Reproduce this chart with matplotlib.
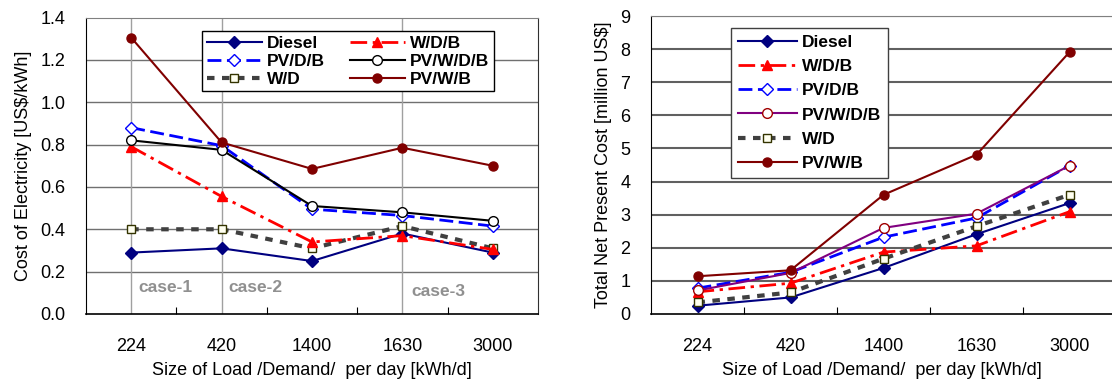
import matplotlib
matplotlib.use("Agg")
from matplotlib import pyplot as plt

plt.rcParams['font.family'] = ['Liberation Sans', 'DejaVu Sans']

loads = ['224', '420', '1400', '1630', '3000']

# cost of electricity [US$/kWh]
coe_diesel = [0.29, 0.31, 0.25, 0.38, 0.29]
coe_wdb = [0.79, 0.555, 0.34, 0.37, 0.305]
coe_pvdb = [0.88, 0.795, 0.495, 0.465, 0.415]
coe_pvwdb = [0.82, 0.775, 0.51, 0.48, 0.44]
coe_wd = [0.40, 0.40, 0.31, 0.415, 0.31]
coe_pvwb = [1.305, 0.81, 0.685, 0.785, 0.70]

# total net present cost [million US$]
npc_diesel = [0.25, 0.50, 1.39, 2.41, 3.35]
npc_wdb = [0.67, 0.93, 1.87, 2.06, 3.09]
npc_pvdb = [0.78, 1.26, 2.32, 2.90, 4.48]
npc_pvwdb = [0.71, 1.24, 2.60, 3.03, 4.48]
npc_wd = [0.35, 0.65, 1.67, 2.65, 3.60]
npc_pvwb = [1.14, 1.32, 3.60, 4.81, 7.91]

case_labels = ['case-1', 'case-2', 'case-3']
case_x = [0.58, 1.58, 3.6]
case_y = [0.123, 0.123, 0.108]

xs = [i + 0.5 for i in range(len(loads))]

def styles(pvwdb_color, pvwdb_edge):
    return {
        'Diesel': dict(color='#000080', ls='-', lw=1.5, marker='D', ms=6,
                       mfc='#000080', mec='#000080'),
        'W/D/B': dict(color='#ff0000', ls=(0, (6, 2, 1.2, 2)), lw=2, marker='^', ms=7.5,
                      mfc='#ff0000', mec='#ff0000'),
        'PV/D/B': dict(color='#0000ff', ls=(0, (5, 2)), lw=2, marker='D', ms=6,
                       mfc='white', mec='#0000ff'),
        'PV/W/D/B': dict(color=pvwdb_color, ls='-', lw=1.5, marker='o', ms=7,
                         mfc='white', mec=pvwdb_edge),
        'W/D': dict(color='#404040', ls=(0, (1.8, 1.8)), lw=3, marker='s', ms=6,
                    mfc='#fffff0', mec='#333300'),
        'PV/W/B': dict(color='#800000', ls='-', lw=1.5, marker='o', ms=6.5,
                       mfc='#800000', mec='#800000'),
    }

fig = plt.figure(figsize=(11.12, 3.81), dpi=100)
W, H = 1112.0, 381.0

# ---- left chart
ax1 = fig.add_axes([86 / W, 1 - 314 / H, 452 / W, (314 - 17.5) / H])
st = styles('black', 'black')
for name, vals in [('Diesel', coe_diesel), ('PV/D/B', coe_pvdb), ('W/D', coe_wd),
                   ('W/D/B', coe_wdb), ('PV/W/D/B', coe_pvwdb), ('PV/W/B', coe_pvwb)]:
    ax1.plot(xs, vals, label=name, zorder=3, **st[name])
ax1.set_xlim(0, 5)
ax1.set_ylim(0, 1.4)
ax1.set_yticks([0.0, 0.2, 0.4, 0.6, 0.8, 1.0, 1.2, 1.4])
ax1.set_yticklabels(['%.1f' % v for v in ax1.get_yticks()])
for v in [0.2, 0.4, 0.6, 0.8, 1.0, 1.2]:
    ax1.axhline(v, color='#707070', lw=1, zorder=1)
for i in [0, 1, 3]:
    ax1.axvline(xs[i], color='#a0a0a0', lw=1, zorder=1)
for t, cx, cy in zip(case_labels, case_x, case_y):
    ax1.text(cx, cy, t, color='#909090', fontsize=12.5, fontweight='bold', va='center')
ax1.set_ylabel('Cost of Electricity [US$/kWh]', fontsize=13, labelpad=6)
leg1 = ax1.legend(ncol=2, loc='upper left', bbox_to_anchor=(0.257, 0.954),
                  borderaxespad=0,
                  prop={'weight': 'bold', 'size': 12.5}, frameon=True, fancybox=False,
                  edgecolor='black', framealpha=1, handlelength=3.2, handletextpad=0.3,
                  columnspacing=1.4, labelspacing=0.17, borderpad=0.25)
leg1.get_frame().set_linewidth(1)

# ---- right chart
ax2 = fig.add_axes([651 / W, 1 - 314 / H, (W - 651) / W, (314 - 16) / H])
st = styles('#800080', '#a00000')
for name, vals in [('Diesel', npc_diesel), ('W/D/B', npc_wdb), ('PV/D/B', npc_pvdb),
                   ('PV/W/D/B', npc_pvwdb), ('W/D', npc_wd), ('PV/W/B', npc_pvwb)]:
    ax2.plot(xs, vals, label=name, zorder=3, **st[name])
ax2.set_xlim(0, (W - 651) / 93.0)
ax2.set_ylim(0, 9)
ax2.set_yticks(range(10))
for v in range(1, 10):
    ax2.axhline(v, color='#606060', lw=1.5, zorder=1)
ax2.set_ylabel('Total Net Present Cost [million US$]', fontsize=13, labelpad=6)
leg2 = ax2.legend(loc='upper left', bbox_to_anchor=(0.1735, 0.96),
                  borderaxespad=0,
                  prop={'weight': 'bold', 'size': 12.5}, frameon=True, fancybox=False,
                  edgecolor='#404040', framealpha=1, handlelength=3.4, handletextpad=0.3,
                  labelspacing=0.52, borderpad=0.4)
leg2.get_frame().set_linewidth(1)

for ax in (ax1, ax2):
    ax.set_xticks(xs)
    ax.set_xticklabels(loads)
    ax.set_xticks([1, 2, 3, 4], minor=True)
    ax.tick_params(axis='x', which='major', length=0, pad=17, labelsize=13)
    ax.tick_params(axis='x', which='minor', length=5, direction='in', width=0.8)
    ax.tick_params(axis='y', length=0, pad=15, labelsize=13)
    ax.set_xlabel('Size of Load /Demand/  per day [kWh/d]', fontsize=13, labelpad=5)
    ax.spines['left'].set_color('black')
    ax.spines['bottom'].set_color('black')
    ax.spines['bottom'].set_linewidth(1.2)
    ax.spines['top'].set_color('#808080')

ax1.spines['right'].set_color('#303030')
ax2.spines['right'].set_visible(False)

fig.savefig('out.png', dpi=100)
